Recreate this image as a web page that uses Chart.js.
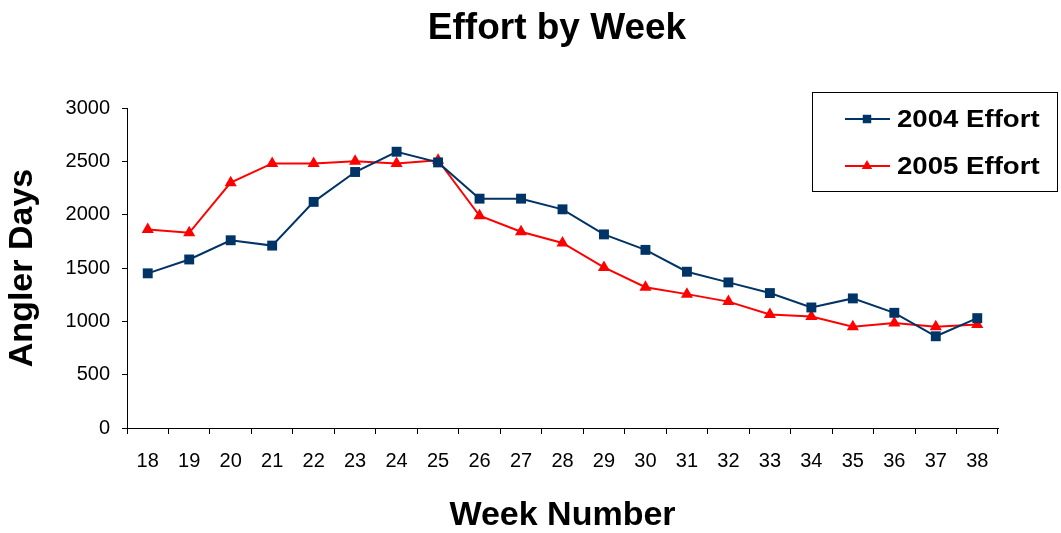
<!DOCTYPE html>
<html>
<head>
<meta charset="utf-8">
<title>Effort by Week</title>
<script src="https://cdn.jsdelivr.net/npm/chart.js@4/dist/chart.umd.min.js"></script>
<style>
  html, body { margin: 0; padding: 0; background: #ffffff; }
  #wrap { width: 1061px; height: 533px; }
</style>
</head>
<body>
<div id="wrap"><canvas id="effortChart" width="1061" height="533"></canvas></div>
<script>
// Week numbers along the horizontal axis
const weeks = ['18', '19', '20', '21', '22', '23', '24', '25', '26', '27', '28',
               '29', '30', '31', '32', '33', '34', '35', '36', '37', '38'];

// Angler days per week
const effort2004 = [1450, 1580, 1760, 1710, 2120, 2400, 2590, 2490, 2150, 2150, 2050,
                    1815, 1670, 1465, 1365, 1265, 1130, 1215, 1080, 860, 1030];
const effort2005 = [1860, 1830, 2300, 2480, 2480, 2500, 2480, 2510, 1990, 1840, 1735,
                    1505, 1320, 1255, 1185, 1065, 1045, 950, 985, 950, 970];

// Vertical axis range and step
const yMin = 0;
const yMax = 3000;
const yStep = 500;

const seriesLabels = ['2004 Effort', '2005 Effort'];
const chartTitle = 'Effort by Week';
const xTitle = 'Week Number';
const yTitle = 'Angler Days';

const FONT = '"Liberation Sans", Arial, Helvetica, sans-serif';
const NAVY = '#003366';
const RED = '#ff0000';

// Title drawn above the plot
const titlePlugin = {
  id: 'topTitle',
  afterDraw(chart) {
    const ctx = chart.ctx;
    ctx.save();
    ctx.fillStyle = '#000';
    ctx.font = 'bold 37px ' + FONT;
    ctx.textAlign = 'center';
    ctx.textBaseline = 'alphabetic';
    ctx.fillText(chartTitle, 557, 39);
    ctx.restore();
  }
};

// Boxed legend in the upper right, overlapping the plot
const boxLegend = {
  id: 'boxLegend',
  afterDraw(chart) {
    const ctx = chart.ctx;
    const bx = 812, by = 92, bw = 246, bh = 100;
    ctx.save();
    ctx.fillStyle = '#fff';
    ctx.fillRect(bx, by, bw, bh);
    ctx.strokeStyle = '#000';
    ctx.lineWidth = 1;
    ctx.strokeRect(bx + 0.5, by + 0.5, bw - 1, bh - 1);
    chart.data.datasets.forEach((ds, i) => {
      const y = 119 + i * 47;
      ctx.strokeStyle = ds.borderColor;
      ctx.lineWidth = 2;
      ctx.beginPath();
      ctx.moveTo(845, y);
      ctx.lineTo(890, y);
      ctx.stroke();
      ctx.fillStyle = ds.pointBackgroundColor;
      ctx.strokeStyle = ds.pointBackgroundColor;
      Chart.helpers.drawPoint(ctx, {
        pointStyle: ds.pointStyle, radius: 6, rotation: 0, borderWidth: 0
      }, 867, y);
      ctx.fillStyle = '#000';
      ctx.font = 'bold 24px ' + FONT;
      ctx.textAlign = 'left';
      ctx.textBaseline = 'middle';
      ctx.save();
      ctx.translate(897, y + 1);
      ctx.scale(1.15, 1);
      ctx.fillText(ds.label, 0, 0);
      ctx.restore();
    });
    ctx.restore();
  }
};

new Chart(document.getElementById('effortChart'), {
  type: 'line',
  data: {
    labels: weeks,
    datasets: [
      {
        label: seriesLabels[0],
        data: effort2004,
        borderColor: NAVY,
        backgroundColor: NAVY,
        pointBackgroundColor: NAVY,
        pointBorderColor: NAVY,
        pointBorderWidth: 0,
        pointStyle: 'rect',
        pointRadius: 7,
        borderWidth: 2,
        tension: 0
      },
      {
        label: seriesLabels[1],
        data: effort2005,
        borderColor: RED,
        backgroundColor: RED,
        pointBackgroundColor: RED,
        pointBorderColor: RED,
        pointBorderWidth: 0,
        pointStyle: 'triangle',
        pointRadius: 7,
        borderWidth: 2,
        tension: 0
      }
    ]
  },
  options: {
    responsive: false,
    animation: false,
    devicePixelRatio: 1,
    layout: { padding: { left: 0, right: 63, top: 108, bottom: 0 } },
    plugins: {
      legend: { display: false },
      title: { display: false },
      tooltip: { enabled: false }
    },
    scales: {
      x: {
        type: 'category',
        offset: true,
        grid: {
          display: true,
          offset: true,
          drawOnChartArea: false,
          drawTicks: true,
          tickLength: 6,
          tickColor: '#000',
          color: '#000'
        },
        border: { display: true, color: '#000', width: 1 },
        ticks: {
          color: '#000',
          font: { family: FONT, size: 20 },
          padding: 15,
          maxRotation: 0,
          autoSkip: false
        },
        title: {
          display: true,
          text: xTitle,
          color: '#000',
          font: { family: FONT, size: 34, weight: 'bold', lineHeight: 1 },
          padding: { top: 0, bottom: 0 }
        },
        afterFit(scale) { scale.height = 105; }
      },
      y: {
        min: yMin,
        max: yMax,
        grid: {
          display: true,
          drawOnChartArea: false,
          drawTicks: true,
          tickLength: 5,
          tickColor: '#000',
          color: '#000'
        },
        border: { display: true, color: '#000', width: 1 },
        ticks: {
          stepSize: yStep,
          color: '#000',
          font: { family: FONT, size: 20 },
          padding: 12,
          callback: (value) => String(value)
        },
        title: {
          display: true,
          text: yTitle,
          color: '#000',
          font: { family: FONT, size: 34, weight: 'bold', lineHeight: 1 },
          padding: { top: 6, bottom: 0 }
        },
        afterFit(scale) { scale.width = 127; }
      }
    }
  },
  plugins: [titlePlugin, boxLegend]
});
</script>
</body>
</html>
